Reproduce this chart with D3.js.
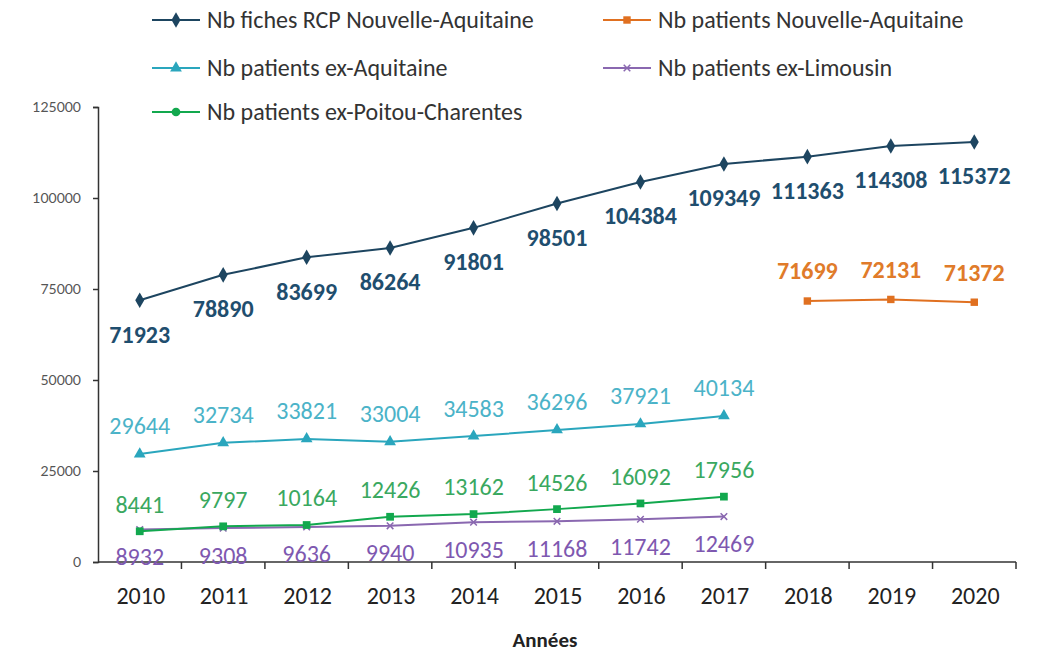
<!DOCTYPE html>
<html>
<head>
<meta charset="utf-8">
<script src="https://cdn.jsdelivr.net/npm/d3@7"></script>
<style>
  body { margin: 0; background: #fff; }
  svg { font-family: Calibri, Carlito, Lato, sans-serif; }
</style>
</head>
<body>
<svg id="chart" width="1040" height="653"></svg>
<script>
var years = ['2010', '2011', '2012', '2013', '2014', '2015', '2016', '2017', '2018', '2019', '2020'];
var fichesNA = [71923, 78890, 83699, 86264, 91801, 98501, 104384, 109349, 111363, 114308, 115372];
var patientsNA = [null, null, null, null, null, null, null, null, 71699, 72131, 71372];
var exAquitaine = [29644, 32734, 33821, 33004, 34583, 36296, 37921, 40134, null, null, null];
var exLimousin = [8932, 9308, 9636, 9940, 10935, 11168, 11742, 12469, null, null, null];
var exPoitou = [8441, 9797, 10164, 12426, 13162, 14526, 16092, 17956, null, null, null];
var yTicks = [0, 25000, 50000, 75000, 100000, 125000];

var series = [
  { name: 'Nb fiches RCP Nouvelle-Aquitaine', values: fichesNA, color: '#1d4560', label: '#1f4e6e', symbol: d3.symbolDiamond, legendSymbol: d3.symbolDiamond, size: 70, bold: true, dy: 34 },
  { name: 'Nb patients Nouvelle-Aquitaine', values: patientsNA, color: '#e07020', label: '#e07b2a', symbol: d3.symbolSquare, legendSymbol: d3.symbolSquare, size: 55, bold: true, dy: -30 },
  { name: 'Nb patients ex-Aquitaine', values: exAquitaine, color: '#2aa6bd', label: '#4bb3c8', symbol: d3.symbolTriangle, legendSymbol: d3.symbolTriangle, size: 60, bold: false, dy: -28 },
  { name: 'Nb patients ex-Limousin', values: exLimousin, color: '#8a68b0', label: '#7e58b0', symbol: d3.symbolX, legendSymbol: d3.symbolX, size: 30, bold: false, dy: 27 },
  { name: 'Nb patients ex-Poitou-Charentes', values: exPoitou, color: '#12a84e', label: '#3aa860', symbol: d3.symbolSquare, legendSymbol: d3.symbolCircle, size: 60, bold: false, dy: -27 }
];

var svg = d3.select('#chart');
var plotL = 98, plotR = 1016, plotT = 107, plotB = 562;

var x = d3.scaleBand().domain(years).range([plotL, plotR]).padding(0);
var y = d3.scaleLinear().domain([0, 125000]).range([plotB, plotT]);

// y axis
var yAxis = svg.append('g').attr('transform', `translate(${plotL},0)`)
  .call(d3.axisLeft(y).tickValues(yTicks).tickSize(5).tickFormat(d3.format('d')));
yAxis.select('.domain').attr('stroke', '#333').attr('stroke-width', 1.5);
yAxis.selectAll('.tick line').attr('stroke', '#333').attr('stroke-width', 1.5);
yAxis.selectAll('.tick text').attr('font-size', 14).attr('fill', '#555').attr('x', -17)
  .attr('font-family', 'Lato, sans-serif');

// x axis
var xAxisG = svg.append('g').attr('transform', `translate(0,${plotB})`);
xAxisG.append('line').attr('x1', plotL).attr('x2', plotR).attr('stroke', '#333').attr('stroke-width', 1.5);
xAxisG.selectAll('line.tk').data(years)
  .enter().append('line').attr('class', 'tk')
  .attr('x1', function (d, i) { return plotL + (i + 1) * x.bandwidth(); })
  .attr('x2', function (d, i) { return plotL + (i + 1) * x.bandwidth(); })
  .attr('y1', 0).attr('y2', 7).attr('stroke', '#333').attr('stroke-width', 1.5);
xAxisG.selectAll('text').data(years).enter().append('text')
  .attr('x', function (d) { return x(d) + x.bandwidth() / 2 + 1; })
  .attr('y', 42).attr('text-anchor', 'middle')
  .attr('font-size', 24).attr('fill', '#222').text(function (d) { return d; });

svg.append('text').attr('x', 545).attr('y', 647)
  .attr('text-anchor', 'middle').attr('font-size', 21).attr('font-weight', 'bold')
  .attr('fill', '#222').text('Années');

var cx = function (i) { return x(years[i]) + x.bandwidth() / 2; };

series.forEach(function (s) {
  var pts = s.values.map(function (v, i) { return { i: i, v: v }; }).filter(function (p) { return p.v !== null; });
  var line = d3.line().x(function (p) { return cx(p.i); }).y(function (p) { return y(p.v); });
  var g = svg.append('g');
  g.append('path').datum(pts).attr('d', line).attr('fill', 'none')
    .attr('stroke', s.color).attr('stroke-width', 2);
  g.selectAll('path.m').data(pts).enter().append('path').attr('class', 'm')
    .attr('d', d3.symbol().type(s.symbol).size(s.size))
    .attr('transform', function (p) { return `translate(${cx(p.i)},${y(p.v)})`; })
    .attr('fill', s.color).attr('stroke', s.color)
    .attr('stroke-width', s.symbol === d3.symbolX ? 1.5 : 0);
  g.selectAll('text').data(pts).enter().append('text')
    .attr('x', function (p) { return cx(p.i); })
    .attr('y', function (p) { return y(p.v) + s.dy; })
    .attr('dy', '0.35em').attr('text-anchor', 'middle')
    .attr('font-size', 24).attr('font-weight', s.bold ? 'bold' : 'normal')
    .attr('fill', s.label).text(function (p) { return p.v; });
});

// legend
var legendPos = [[152, 20], [603, 20], [152, 68], [603, 68], [152, 112]];
series.forEach(function (s, i) {
  var lg = svg.append('g').attr('transform', `translate(${legendPos[i][0]},${legendPos[i][1]})`);
  lg.append('line').attr('x1', 0).attr('x2', 48).attr('stroke', s.color).attr('stroke-width', 2);
  lg.append('path').attr('d', d3.symbol().type(s.legendSymbol).size(s.size))
    .attr('transform', 'translate(24,0)').attr('fill', s.color).attr('stroke', s.color)
    .attr('stroke-width', s.legendSymbol === d3.symbolX ? 1.5 : 0);
  lg.append('text').attr('x', 55).attr('dy', '0.35em').attr('font-size', 24)
    .attr('fill', '#333').text(s.name);
});
</script>
</body>
</html>
